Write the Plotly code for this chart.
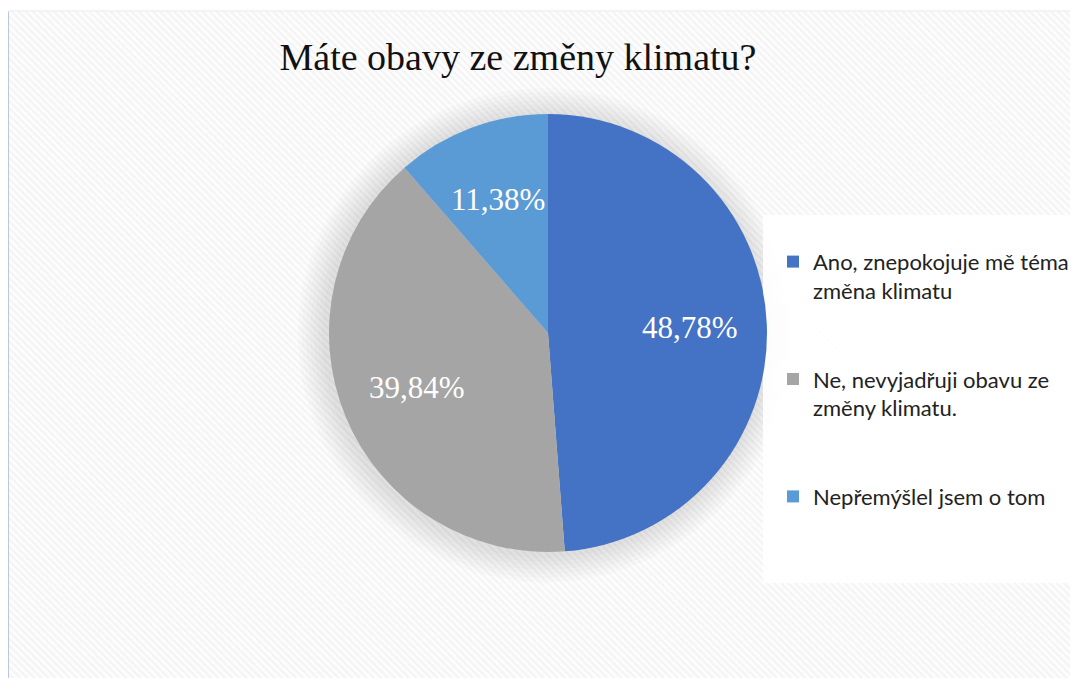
import numpy as np
import plotly.graph_objects as go

labels = [
    "Ano, znepokojuje mě téma<br>změna klimatu",
    "Ne, nevyjadřuji obavu ze<br>změny klimatu.",
    "Nepřemýšlel jsem o tom",
]
values = [48.78, 39.84, 11.38]
colors = ["#4472C4", "#A5A5A5", "#5B9BD5"]
title_text = "Máte obavy ze změny klimatu?"

W, H = 1078, 678
OFF = 8  # page body margin offset
# pie placement in (figure) pixels
cx, cy, r = 548 - OFF, 333 - OFF, 219

fig = go.Figure()

# hatched chart background
bx0, by0 = 7 - OFF, 11 - OFF
fig.add_trace(go.Scatter(
    x=[bx0, W, W, bx0, bx0], y=[by0, by0, H, H, by0],
    mode="lines", fill="toself", line=dict(width=0),
    fillcolor="rgba(0,0,0,0)",
    fillpattern=dict(shape="\\", bgcolor="#fdfdfd", fgcolor="#ebebeb", size=5, solidity=0.45),
    hoverinfo="skip", showlegend=False,
))
fig.add_trace(go.Scatter(x=[bx0 + 1, bx0 + 1], y=[by0, H], mode="lines",
                         line=dict(color="#b8c8e4", width=2), hoverinfo="skip", showlegend=False))
fig.add_trace(go.Scatter(x=[bx0, W], y=[by0, by0], mode="lines",
                         line=dict(color="#eef0f6", width=1.5), hoverinfo="skip", showlegend=False))

# soft shadow around pie
t = np.linspace(0, 2 * np.pi, 181)
for k in range(1, 8):
    rr = r + 4 * k
    fig.add_trace(go.Scatter(
        x=cx - 3 + rr * np.cos(t), y=cy + 2 + rr * np.sin(t),
        mode="lines", fill="toself", line=dict(width=0),
        fillcolor="rgba(0,0,0,0.015)", hoverinfo="skip", showlegend=False,
    ))

# legend panel
lx0, ly0, ly1 = 763 - OFF, 215 - OFF, 583 - OFF
fig.add_trace(go.Scatter(
    x=[lx0, W, W, lx0, lx0], y=[ly0, ly0, ly1, ly1, ly0],
    mode="lines", fill="toself", line=dict(width=0),
    fillcolor="rgba(255,255,255,0.9)", hoverinfo="skip", showlegend=False,
))

# legend labels padded with blank lines for Excel-like spacing
legend_labels = [labels[0] + "<br> <br> ", labels[1] + "<br> <br> ", labels[2] + "<br> <br> "]

fig.add_trace(go.Pie(
    labels=legend_labels, values=values, sort=False, direction="clockwise", rotation=0,
    marker=dict(colors=colors, line=dict(width=0)),
    textinfo="none",
    domain=dict(x=[(cx - r) / W, (cx + r) / W], y=[1 - (cy + r) / H, 1 - (cy - r) / H]),
    hoverinfo="percent",
))

# data labels at slice mid-angles
total = sum(values)
cum = 0.0
annotations = []
for v in values:
    mid = (cum + v / 2) / total * 2 * np.pi
    cum += v
    rf = 0.65 * r
    annotations.append(dict(
        x=cx + rf * np.sin(mid), y=cy - rf * np.cos(mid), xref="x", yref="y",
        text=f"{v:.2f}%".replace(".", ","), showarrow=False,
        font=dict(family="Liberation Serif", size=31, color="white"),
    ))

fig.update_layout(
    width=W, height=H,
    margin=dict(l=0, r=0, t=0, b=0),
    paper_bgcolor="white", plot_bgcolor="white",
    xaxis=dict(range=[0, W], visible=False, fixedrange=True),
    yaxis=dict(range=[H, 0], visible=False, fixedrange=True),
    title=dict(text=title_text, x=(518 - OFF) / W, xanchor="center", y=1 - (57 - OFF) / H, yanchor="middle",
               font=dict(family="Liberation Serif", size=38, color="#111111")),
    legend=dict(
        x=(773 - OFF) / W, y=1 - (220 - OFF) / H, xanchor="left", yanchor="top",
        bgcolor="rgba(0,0,0,0)", valign="top",
        font=dict(family="Lato", size=22, color="#222222"),
        title=dict(text=" ", font=dict(size=16)),
        itemwidth=30,
    ),
    annotations=annotations,
    showlegend=True,
)

fig.write_html("out.html")
